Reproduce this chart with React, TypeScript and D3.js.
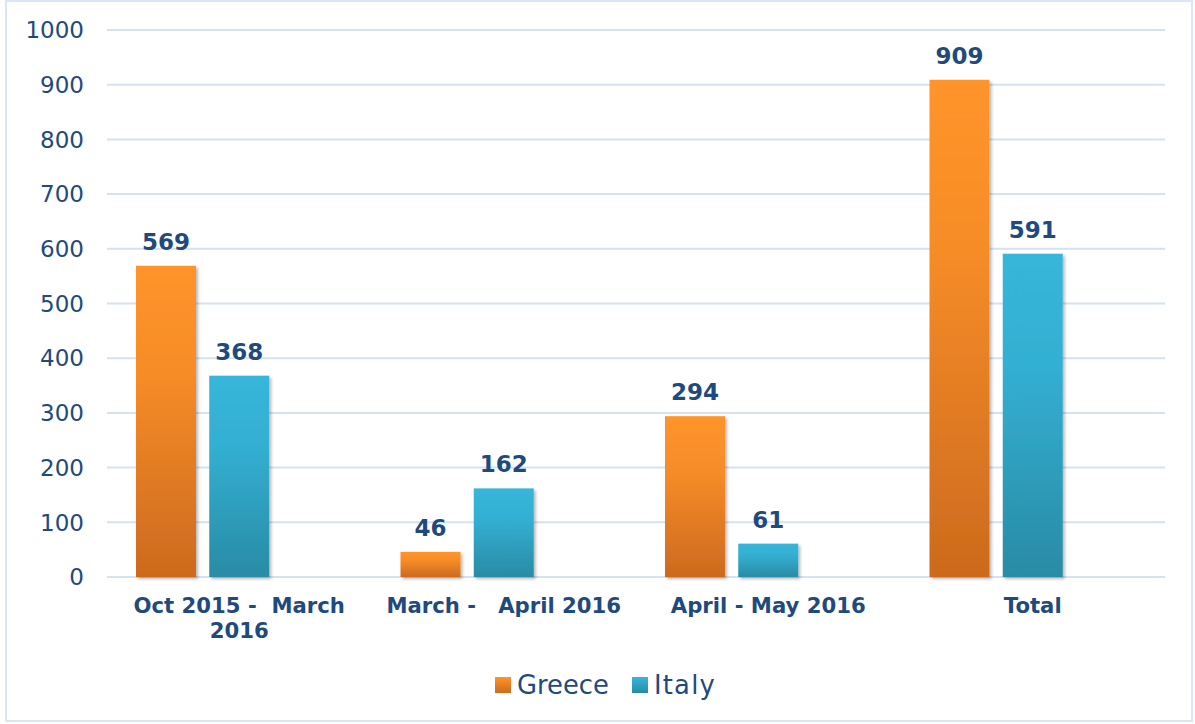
import React from "react";
import * as d3 from "d3";

const categoryLines: string[][] = [
  ["Oct 2015 -  March", "2016"],
  ["March -   April 2016"],
  ["April - May 2016"],
  ["Total"],
];
const seriesNames = ["Greece", "Italy"];
const greece = [569, 46, 294, 909];
const italy = [368, 162, 61, 591];
const yTicks = [0, 100, 200, 300, 400, 500, 600, 700, 800, 900, 1000];

const W = 1195;
const H = 724;
const textColor = "#1F4A7E";
const gridColor = "#D5E2F2";
const font = "'DejaVu Sans', Verdana, sans-serif";

export default function App() {
  const x0 = d3
    .scaleBand<number>()
    .domain(categoryLines.map((_, i) => i))
    .range([107, 1165])
    .paddingInner(0)
    .paddingOuter(0);
  const slots = ["Greece", "Italy", "_empty"];
  const x1 = d3
    .scaleBand<string>()
    .domain(slots)
    .range([0, x0.bandwidth()])
    .paddingInner(0.181)
    .paddingOuter(0.396);
  const y = d3.scaleLinear().domain([0, 1000]).range([577, 30]);

  const series = [
    { name: seriesNames[0], values: greece, grad: "gGreece" },
    { name: seriesNames[1], values: italy, grad: "gItaly" },
  ];

  return (
    <svg
      width={W}
      height={H}
      style={{ position: "absolute", left: 0, top: 0, background: "#fff" }}
      fontFamily={font}
    >
      <defs>
        <linearGradient id="gGreece" x1="0" y1="0" x2="0" y2="1">
          <stop offset="0" stopColor="#FF9429" />
          <stop offset="0.35" stopColor="#F68C28" />
          <stop offset="1" stopColor="#CC6A1E" />
        </linearGradient>
        <linearGradient id="gItaly" x1="0" y1="0" x2="0" y2="1">
          <stop offset="0" stopColor="#37B6DA" />
          <stop offset="0.35" stopColor="#33AFD2" />
          <stop offset="1" stopColor="#298BA5" />
        </linearGradient>
        <linearGradient id="lGreece" x1="0" y1="0" x2="0" y2="1">
          <stop offset="0" stopColor="#FF9429" />
          <stop offset="1" stopColor="#CC6A1E" />
        </linearGradient>
        <linearGradient id="lItaly" x1="0" y1="0" x2="0" y2="1">
          <stop offset="0" stopColor="#37B6DA" />
          <stop offset="1" stopColor="#298BA5" />
        </linearGradient>
        <filter id="shadow" x="-20%" y="-20%" width="140%" height="140%">
          <feDropShadow dx="2" dy="2" stdDeviation="1.5" floodColor="#000" floodOpacity="0.28" />
        </filter>
      </defs>

      <rect x={6} y={1} width={1186} height={720} fill="none" stroke="#DAE6F5" strokeWidth={2} />

      {yTicks.map((t) => (
        <g key={t}>
          <line x1={107} x2={1165} y1={y(t)} y2={y(t)} stroke={gridColor} strokeWidth={2} />
          <text
            x={84}
            y={y(t)}
            dy="0.36em"
            textAnchor="end"
            fontSize={23}
            fill={textColor}
          >
            {t}
          </text>
        </g>
      ))}

      {series.map((s) =>
        s.values.map((v, i) => {
          const bx = (x0(i) ?? 0) + (x1(s.name) ?? 0);
          const bw = x1.bandwidth();
          return (
            <g key={s.name + i}>
              <rect
                x={bx}
                y={y(v)}
                width={bw}
                height={y(0) - y(v)}
                fill={`url(#${s.grad})`}
                filter="url(#shadow)"
              />
              <text
                x={bx + bw / 2}
                y={y(v) - 16}
                textAnchor="middle"
                fontSize={23}
                fontWeight="bold"
                fill={textColor}
              >
                {v}
              </text>
            </g>
          );
        })
      )}

      {categoryLines.map((lines, i) => (
        <text
          key={i}
          x={(x0(i) ?? 0) + x0.bandwidth() / 2}
          y={613}
          textAnchor="middle"
          fontSize={21.2}
          fontWeight="bold"
          fill={textColor}
          style={{ whiteSpace: "pre" }}
        >
          {lines.map((l, j) => (
            <tspan key={j} x={(x0(i) ?? 0) + x0.bandwidth() / 2} dy={j === 0 ? 0 : 25}>
              {l}
            </tspan>
          ))}
        </text>
      ))}

      {/* legend */}
      {(() => {
        const items = [
          { name: seriesNames[0], fill: "url(#lGreece)", x: 495, ls: 0 },
          { name: seriesNames[1], fill: "url(#lItaly)", x: 632, ls: 1.2 },
        ];
        return items.map((it) => (
          <g key={it.name}>
            <rect x={it.x} y={677} width={16} height={16} fill={it.fill} />
            <text
              x={it.x + 22}
              y={694}
              fontSize={25.8}
              letterSpacing={it.ls}
              fill={textColor}
            >
              {it.name}
            </text>
          </g>
        ));
      })()}
    </svg>
  );
}
